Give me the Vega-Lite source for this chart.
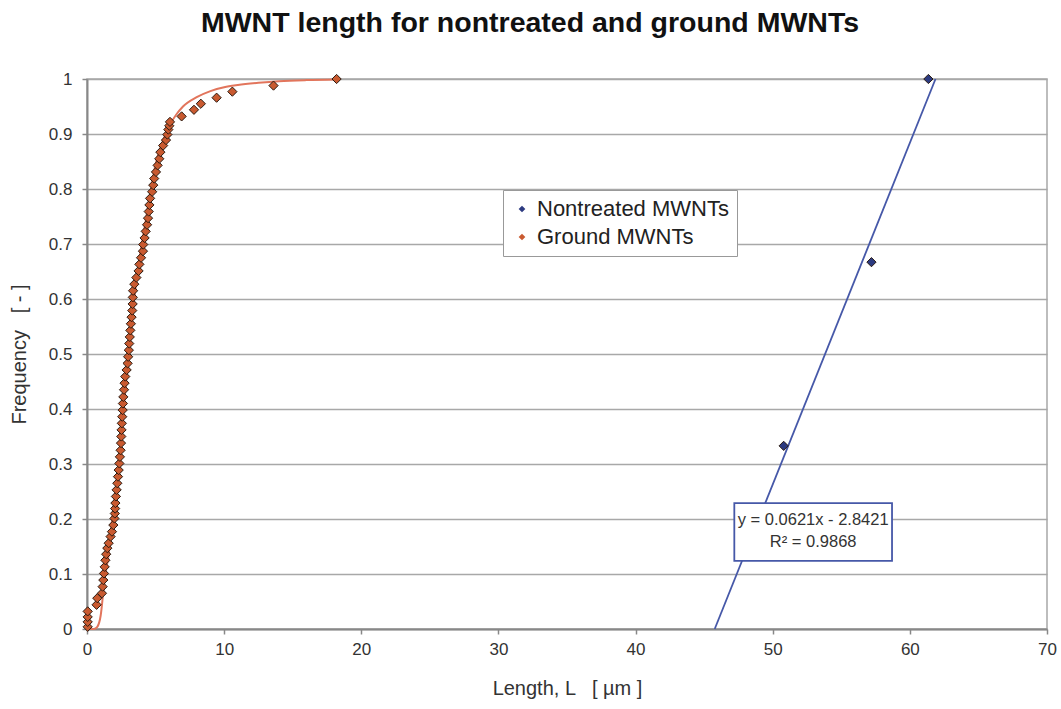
{
  "$schema": "https://vega.github.io/schema/vega-lite/v6.json",
  "width": 960,
  "height": 550,
  "autosize": "none",
  "padding": {"left": 87, "top": 79, "right": 14, "bottom": 80},
  "background": "white",
  "config": {
    "font": "Liberation Sans",
    "view": {"stroke": "#a8a8a8", "strokeWidth": 1.5},
    "axis": {"labelFont": "Liberation Sans", "titleFont": "Liberation Sans", "labelColor": "#333", "titleColor": "#333", "titleFontWeight": "normal"}
  },
  "title": {"text": "MWNT length for nontreated and ground MWNTs", "font": "Liberation Sans", "fontSize": 28.5, "fontWeight": "bold", "color": "#111", "anchor": "middle", "frame": "group", "dx": -37, "offset": 33},
  "datasets": {
    "fit": [
      {"L": 0, "F": 0}, {"L": 0.5, "F": 0}, {"L": 0.75, "F": 0.004}, {"L": 1.0, "F": 0.025}, {"L": 1.2, "F": 0.07},
      {"L": 1.4, "F": 0.11}, {"L": 1.55, "F": 0.13}, {"L": 1.75, "F": 0.18}, {"L": 2.0, "F": 0.235}, {"L": 2.3, "F": 0.3},
      {"L": 2.6, "F": 0.38}, {"L": 3.0, "F": 0.49}, {"L": 3.4, "F": 0.59}, {"L": 3.8, "F": 0.67}, {"L": 4.2, "F": 0.73},
      {"L": 4.6, "F": 0.79}, {"L": 5.0, "F": 0.845}, {"L": 5.5, "F": 0.885}, {"L": 6.0, "F": 0.915}, {"L": 6.5, "F": 0.935},
      {"L": 7.0, "F": 0.95}, {"L": 8.0, "F": 0.967}, {"L": 9.0, "F": 0.978}, {"L": 10.0, "F": 0.985}, {"L": 11.0, "F": 0.989},
      {"L": 12.5, "F": 0.993}, {"L": 14.0, "F": 0.996}, {"L": 16.0, "F": 0.998}, {"L": 18.2, "F": 0.999}
    ],
    "trend": [{"L": 45.77, "F": 0}, {"L": 61.87, "F": 1}],
    "box": [{"x1": 47.2, "x2": 58.7, "y1": 0.229, "y2": 0.124}],
    "eq": [{"L": 52.95, "F": 0.198, "label": "y = 0.0621x - 2.8421"}, {"L": 52.95, "F": 0.158, "label": "R² = 0.9868"}],
    "pts": [
      {"series": "Nontreated MWNTs", "L": 50.8, "F": 0.333},
      {"series": "Nontreated MWNTs", "L": 57.2, "F": 0.667},
      {"series": "Nontreated MWNTs", "L": 61.35, "F": 1.0},
      {"series": "Ground MWNTs", "L": 0.05, "F": 0.004},
      {"series": "Ground MWNTs", "L": 0.05, "F": 0.013},
      {"series": "Ground MWNTs", "L": 0.05, "F": 0.022},
      {"series": "Ground MWNTs", "L": 0.05, "F": 0.032},
      {"series": "Ground MWNTs", "L": 0.7, "F": 0.044},
      {"series": "Ground MWNTs", "L": 0.75, "F": 0.056},
      {"series": "Ground MWNTs", "L": 1.09, "F": 0.065},
      {"series": "Ground MWNTs", "L": 1.14, "F": 0.077},
      {"series": "Ground MWNTs", "L": 1.19, "F": 0.089},
      {"series": "Ground MWNTs", "L": 1.24, "F": 0.101},
      {"series": "Ground MWNTs", "L": 1.29, "F": 0.113},
      {"series": "Ground MWNTs", "L": 1.34, "F": 0.125},
      {"series": "Ground MWNTs", "L": 1.4, "F": 0.136},
      {"series": "Ground MWNTs", "L": 1.48, "F": 0.147},
      {"series": "Ground MWNTs", "L": 1.58, "F": 0.156},
      {"series": "Ground MWNTs", "L": 1.72, "F": 0.168},
      {"series": "Ground MWNTs", "L": 1.82, "F": 0.177},
      {"series": "Ground MWNTs", "L": 1.92, "F": 0.189},
      {"series": "Ground MWNTs", "L": 2.0, "F": 0.201},
      {"series": "Ground MWNTs", "L": 2.03, "F": 0.21},
      {"series": "Ground MWNTs", "L": 2.05, "F": 0.219},
      {"series": "Ground MWNTs", "L": 2.07, "F": 0.229},
      {"series": "Ground MWNTs", "L": 2.11, "F": 0.241},
      {"series": "Ground MWNTs", "L": 2.16, "F": 0.253},
      {"series": "Ground MWNTs", "L": 2.21, "F": 0.265},
      {"series": "Ground MWNTs", "L": 2.26, "F": 0.277},
      {"series": "Ground MWNTs", "L": 2.31, "F": 0.289},
      {"series": "Ground MWNTs", "L": 2.36, "F": 0.301},
      {"series": "Ground MWNTs", "L": 2.4, "F": 0.313},
      {"series": "Ground MWNTs", "L": 2.45, "F": 0.325},
      {"series": "Ground MWNTs", "L": 2.48, "F": 0.338},
      {"series": "Ground MWNTs", "L": 2.5, "F": 0.35},
      {"series": "Ground MWNTs", "L": 2.52, "F": 0.362},
      {"series": "Ground MWNTs", "L": 2.54, "F": 0.374},
      {"series": "Ground MWNTs", "L": 2.57, "F": 0.386},
      {"series": "Ground MWNTs", "L": 2.6, "F": 0.398},
      {"series": "Ground MWNTs", "L": 2.62, "F": 0.41},
      {"series": "Ground MWNTs", "L": 2.65, "F": 0.422},
      {"series": "Ground MWNTs", "L": 2.7, "F": 0.435},
      {"series": "Ground MWNTs", "L": 2.74, "F": 0.447},
      {"series": "Ground MWNTs", "L": 2.79, "F": 0.459},
      {"series": "Ground MWNTs", "L": 2.89, "F": 0.471},
      {"series": "Ground MWNTs", "L": 2.96, "F": 0.483},
      {"series": "Ground MWNTs", "L": 3.0, "F": 0.495},
      {"series": "Ground MWNTs", "L": 3.05, "F": 0.507},
      {"series": "Ground MWNTs", "L": 3.08, "F": 0.519},
      {"series": "Ground MWNTs", "L": 3.12, "F": 0.531},
      {"series": "Ground MWNTs", "L": 3.16, "F": 0.543},
      {"series": "Ground MWNTs", "L": 3.2, "F": 0.555},
      {"series": "Ground MWNTs", "L": 3.25, "F": 0.567},
      {"series": "Ground MWNTs", "L": 3.3, "F": 0.579},
      {"series": "Ground MWNTs", "L": 3.33, "F": 0.591},
      {"series": "Ground MWNTs", "L": 3.34, "F": 0.603},
      {"series": "Ground MWNTs", "L": 3.36, "F": 0.615},
      {"series": "Ground MWNTs", "L": 3.45, "F": 0.627},
      {"series": "Ground MWNTs", "L": 3.6, "F": 0.639},
      {"series": "Ground MWNTs", "L": 3.76, "F": 0.651},
      {"series": "Ground MWNTs", "L": 3.82, "F": 0.663},
      {"series": "Ground MWNTs", "L": 3.94, "F": 0.675},
      {"series": "Ground MWNTs", "L": 4.08, "F": 0.687},
      {"series": "Ground MWNTs", "L": 4.1, "F": 0.699},
      {"series": "Ground MWNTs", "L": 4.2, "F": 0.711},
      {"series": "Ground MWNTs", "L": 4.28, "F": 0.723},
      {"series": "Ground MWNTs", "L": 4.38, "F": 0.735},
      {"series": "Ground MWNTs", "L": 4.45, "F": 0.747},
      {"series": "Ground MWNTs", "L": 4.5, "F": 0.759},
      {"series": "Ground MWNTs", "L": 4.55, "F": 0.771},
      {"series": "Ground MWNTs", "L": 4.6, "F": 0.783},
      {"series": "Ground MWNTs", "L": 4.75, "F": 0.795},
      {"series": "Ground MWNTs", "L": 4.83, "F": 0.807},
      {"series": "Ground MWNTs", "L": 4.9, "F": 0.819},
      {"series": "Ground MWNTs", "L": 5.03, "F": 0.831},
      {"series": "Ground MWNTs", "L": 5.15, "F": 0.843},
      {"series": "Ground MWNTs", "L": 5.27, "F": 0.855},
      {"series": "Ground MWNTs", "L": 5.35, "F": 0.867},
      {"series": "Ground MWNTs", "L": 5.55, "F": 0.879},
      {"series": "Ground MWNTs", "L": 5.76, "F": 0.889},
      {"series": "Ground MWNTs", "L": 5.86, "F": 0.899},
      {"series": "Ground MWNTs", "L": 5.93, "F": 0.908},
      {"series": "Ground MWNTs", "L": 6.0, "F": 0.915},
      {"series": "Ground MWNTs", "L": 6.05, "F": 0.922},
      {"series": "Ground MWNTs", "L": 6.9, "F": 0.932},
      {"series": "Ground MWNTs", "L": 7.8, "F": 0.944},
      {"series": "Ground MWNTs", "L": 8.3, "F": 0.955},
      {"series": "Ground MWNTs", "L": 9.45, "F": 0.966},
      {"series": "Ground MWNTs", "L": 10.6, "F": 0.977},
      {"series": "Ground MWNTs", "L": 13.6, "F": 0.988},
      {"series": "Ground MWNTs", "L": 18.2, "F": 1.0}
    ]
  },
  "encoding": {
    "x": {"field": "L", "type": "quantitative", "scale": {"domain": [0, 70], "nice": false, "zero": false},
      "axis": {"title": "Length, L \u00a0\u00a0[ µm ]", "values": [0, 10, 20, 30, 40, 50, 60, 70], "grid": false, "labelFontSize": 17, "titleFontSize": 20, "tickSize": 5, "tickColor": "#888", "tickWidth": 1.5, "domainColor": "#888", "domainWidth": 2, "labelPadding": 7, "titlePadding": 21, "labelFlush": false}},
    "y": {"field": "F", "type": "quantitative", "scale": {"domain": [0, 1], "nice": false},
      "axis": {"title": "Frequency \u00a0\u00a0[ - ]", "values": [0, 0.1, 0.2, 0.3, 0.4, 0.5, 0.6, 0.7, 0.8, 0.9, 1], "format": ".1~f", "grid": true, "gridColor": "#a8a8a8", "gridWidth": 1.5, "labelFontSize": 17, "titleFontSize": 20, "tickSize": 5, "tickColor": "#888", "tickWidth": 1.5, "domainColor": "#888", "domainWidth": 2, "labelPadding": 10, "titlePadding": 19, "labelFlush": false}}
  },
  "layer": [
    {"data": {"name": "fit"}, "mark": {"type": "line", "color": "#e2755c", "strokeWidth": 2, "interpolate": "monotone"}},
    {"data": {"name": "trend"}, "mark": {"type": "line", "color": "#4658a8", "strokeWidth": 1.8}},
    {"data": {"name": "pts"}, "mark": {"type": "point", "shape": "diamond", "filled": true, "size": 85, "stroke": "#2a1a10", "strokeWidth": 1, "opacity": 1},
      "encoding": {"color": {"field": "series", "type": "nominal",
        "scale": {"domain": ["Nontreated MWNTs", "Ground MWNTs"], "range": ["#2c3a80", "#c95a30"]},
        "legend": {"title": null, "orient": "none", "legendX": 416, "legendY": 111, "fillColor": "white", "strokeColor": "#999", "padding": 8, "labelFont": "Liberation Sans", "labelFontSize": 22, "labelColor": "#222", "labelLimit": 400, "symbolType": "diamond", "symbolSize": 45, "symbolStrokeWidth": 0, "rowPadding": 6, "labelOffset": 4}}}},
    {"data": {"name": "box"}, "mark": {"type": "rect", "fill": "white", "stroke": "#4658a8", "strokeWidth": 1.8},
      "encoding": {"x": {"field": "x1", "type": "quantitative"}, "x2": {"field": "x2"}, "y": {"field": "y1", "type": "quantitative"}, "y2": {"field": "y2"}}},
    {"data": {"name": "eq"}, "mark": {"type": "text", "font": "Liberation Sans", "fontSize": 16.5, "color": "#333", "align": "center", "baseline": "middle"},
      "encoding": {"text": {"field": "label"}}}
  ]
}
